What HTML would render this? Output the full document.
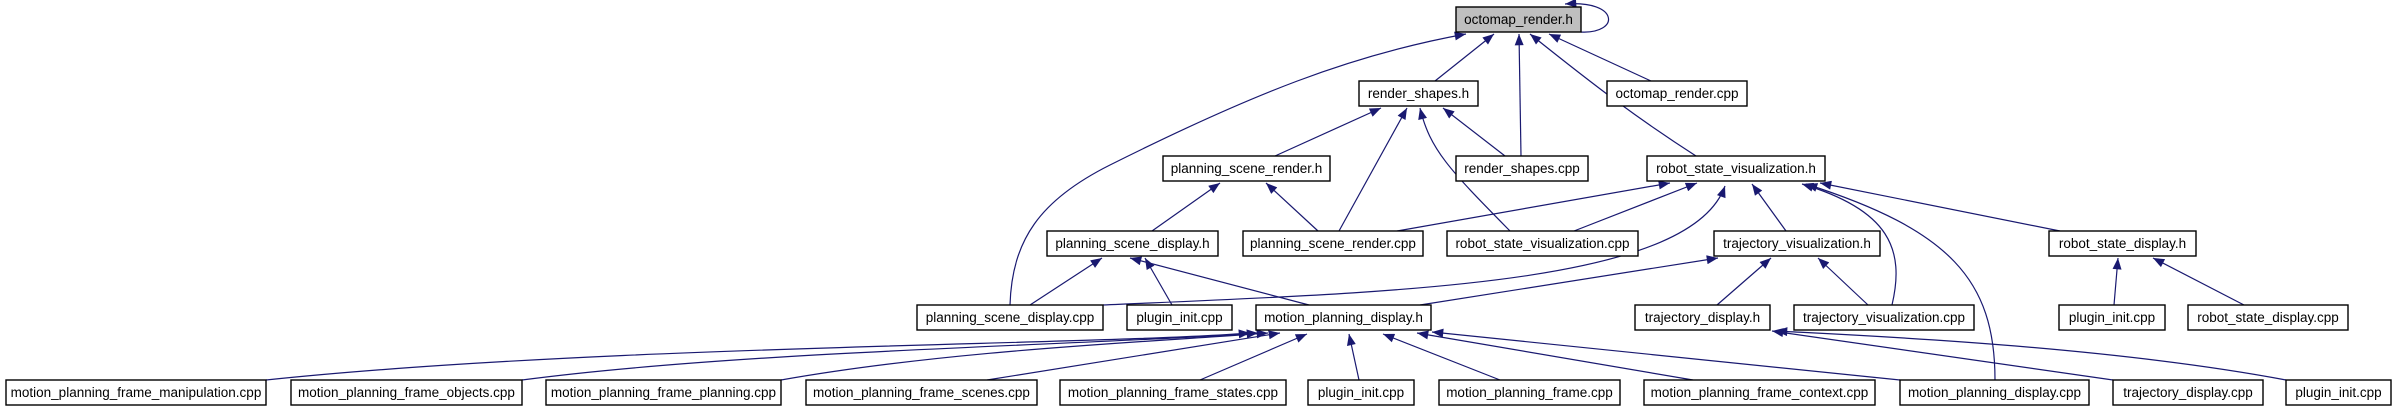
<!DOCTYPE html>
<html><head><meta charset="utf-8"><style>
html,body{margin:0;padding:0;background:#fff;}
svg{display:block;}
text{font-family:"Liberation Sans",sans-serif;font-size:13.5px;fill:#000;}
</style></head><body>
<svg width="2396" height="412" viewBox="0 0 2396 412" xmlns="http://www.w3.org/2000/svg">
<defs>
<marker id="a" viewBox="0 0 10 8" refX="10" refY="4" markerWidth="12" markerHeight="9" markerUnits="userSpaceOnUse" orient="auto">
<path d="M0,0 L10,4 L0,8 z" fill="#191970"/>
</marker>
</defs>
<g fill="none" stroke="#191970" stroke-width="1.2" marker-end="url(#a)">
<path d="M1010,305 C1012,240 1040,200 1110,165 C1250,95 1350,55 1466,34"/>
<path d="M1435,81 L1494,34"/>
<path d="M1521,156 L1519,34"/>
<path d="M1696,156 C1640,120 1600,90 1530,34"/>
<path d="M1651,81 L1549,34"/>
<path d="M1581,32 C1620,34 1620,0 1565,4"/>
<path d="M1275,156 L1381,108"/>
<path d="M1339,231 L1407,108"/>
<path d="M1510,231 C1450,170 1430,150 1420,108"/>
<path d="M1505,156 L1443,108"/>
<path d="M1152,231 L1220,183"/>
<path d="M1318,231 L1266,183"/>
<path d="M1397,231 L1670,183"/>
<path d="M1574,231 L1697,183"/>
<path d="M1103,305 C1400,292 1690,285 1725,186"/>
<path d="M1786,231 L1752,184"/>
<path d="M1892,305 C1905,250 1890,210 1802,184"/>
<path d="M1995,380 C1995,280 1950,230 1806,184"/>
<path d="M2060,231 L1820,183"/>
<path d="M1420,305 L1718,258"/>
<path d="M1717,305 L1771,258"/>
<path d="M1868,305 L1818,258"/>
<path d="M1309,305 L1130,258"/>
<path d="M1172,305 L1145,258"/>
<path d="M1030,305 L1102,258"/>
<path d="M2114,305 L2118,258"/>
<path d="M2244,305 L2153,258"/>
<path d="M266,380 C600,345 1100,345 1250,333"/>
<path d="M522,380 C750,350 1100,345 1258,333"/>
<path d="M781,380 C950,350 1150,342 1268,333"/>
<path d="M987,380 L1280,333"/>
<path d="M1200,380 L1307,334"/>
<path d="M1359,380 L1349,334"/>
<path d="M1500,380 L1383,334"/>
<path d="M1693,380 L1417,333"/>
<path d="M1900,380 L1432,332"/>
<path d="M2113,380 L1772,331"/>
<path d="M2286,380 C2100,345 1850,335 1776,331"/>
</g>
<g stroke="#000" stroke-width="1.4" fill="#fff">
<rect x="1456" y="7" width="125" height="25" fill="#bfbfbf"/>
<rect x="1359" y="81" width="119" height="25"/>
<rect x="1607" y="81" width="140" height="25"/>
<rect x="1163" y="156" width="167" height="25"/>
<rect x="1456" y="156" width="132" height="25"/>
<rect x="1647" y="156" width="178" height="25"/>
<rect x="1047" y="231" width="171" height="25"/>
<rect x="1243" y="231" width="180" height="25"/>
<rect x="1447" y="231" width="191" height="25"/>
<rect x="1714" y="231" width="166" height="25"/>
<rect x="2049" y="231" width="147" height="25"/>
<rect x="917" y="305" width="186" height="25"/>
<rect x="1127" y="305" width="105" height="25"/>
<rect x="1256" y="305" width="175" height="25"/>
<rect x="1635" y="305" width="135" height="25"/>
<rect x="1794" y="305" width="180" height="25"/>
<rect x="2059" y="305" width="106" height="25"/>
<rect x="2188" y="305" width="160" height="25"/>
<rect x="6" y="380" width="260" height="25"/>
<rect x="291" y="380" width="231" height="25"/>
<rect x="546" y="380" width="235" height="25"/>
<rect x="806" y="380" width="231" height="25"/>
<rect x="1060" y="380" width="226" height="25"/>
<rect x="1308" y="380" width="106" height="25"/>
<rect x="1439" y="380" width="181" height="25"/>
<rect x="1644" y="380" width="231" height="25"/>
<rect x="1900" y="380" width="189" height="25"/>
<rect x="2113" y="380" width="150" height="25"/>
<rect x="2286" y="380" width="105" height="25"/>
</g>
<g text-anchor="middle">
<text x="1518.5" y="24">octomap_render.h</text>
<text x="1418.5" y="98">render_shapes.h</text>
<text x="1677" y="98">octomap_render.cpp</text>
<text x="1246.5" y="173">planning_scene_render.h</text>
<text x="1522" y="173">render_shapes.cpp</text>
<text x="1736" y="173">robot_state_visualization.h</text>
<text x="1132.5" y="248">planning_scene_display.h</text>
<text x="1333" y="248">planning_scene_render.cpp</text>
<text x="1542.5" y="248">robot_state_visualization.cpp</text>
<text x="1797" y="248">trajectory_visualization.h</text>
<text x="2122.5" y="248">robot_state_display.h</text>
<text x="1010" y="322">planning_scene_display.cpp</text>
<text x="1179.5" y="322">plugin_init.cpp</text>
<text x="1343.5" y="322">motion_planning_display.h</text>
<text x="1702.5" y="322">trajectory_display.h</text>
<text x="1884" y="322">trajectory_visualization.cpp</text>
<text x="2112" y="322">plugin_init.cpp</text>
<text x="2268" y="322">robot_state_display.cpp</text>
<text x="136" y="397">motion_planning_frame_manipulation.cpp</text>
<text x="406.5" y="397">motion_planning_frame_objects.cpp</text>
<text x="663.5" y="397">motion_planning_frame_planning.cpp</text>
<text x="921.5" y="397">motion_planning_frame_scenes.cpp</text>
<text x="1173" y="397">motion_planning_frame_states.cpp</text>
<text x="1361" y="397">plugin_init.cpp</text>
<text x="1529.5" y="397">motion_planning_frame.cpp</text>
<text x="1759.5" y="397">motion_planning_frame_context.cpp</text>
<text x="1994.5" y="397">motion_planning_display.cpp</text>
<text x="2188" y="397">trajectory_display.cpp</text>
<text x="2338.5" y="397">plugin_init.cpp</text>
</g>
</svg>
</body></html>
